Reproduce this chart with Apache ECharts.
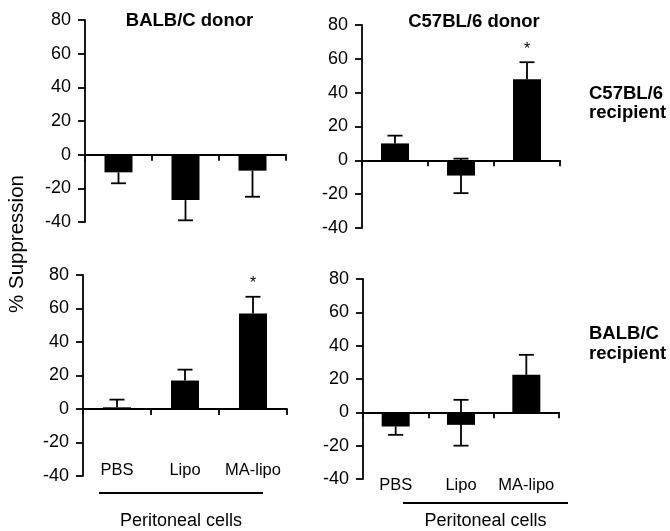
<!DOCTYPE html>
<html><head><meta charset="utf-8">
<script src="https://cdn.jsdelivr.net/npm/echarts@6/dist/echarts.min.js"></script>
<style>html,body{margin:0;padding:0;background:#fff}#c{width:670px;height:531px}</style>
</head><body><div id="c"></div>
<script>
// ---- data ----
const categories = ['PBS', 'Lipo', 'MA-lipo'];
// top-left: BALB/C donor -> C57BL/6 recipient
const tlValues  = [-10.5, -27, -9.5];
const tlErrUp   = [0, 0, 0];
const tlErrDown = [6.5, 12, 15.5];
const tlSig     = [0, 0, 0];
// top-right: C57BL/6 donor -> C57BL/6 recipient
const trValues  = [10, -9, 48];
const trErrUp   = [4.6, 10, 10];
const trErrDown = [0, 10.4, 0];
const trSig     = [0, 0, 1];
// bottom-left: BALB/C donor -> BALB/C recipient
const blValues  = [1, 17, 57];
const blErrUp   = [4.6, 6.5, 10];
const blErrDown = [0, 0, 0];
const blSig     = [0, 0, 1];
// bottom-right: C57BL/6 donor -> BALB/C recipient
const brValues  = [-8.5, -7.5, 22.5];
const brErrUp   = [0, 15, 12];
const brErrDown = [5, 12.5, 0];
const brSig     = [0, 0, 0];

const F = '"Liberation Sans", Arial, Helvetica, sans-serif';
const BLACK = '#000';

const panels = [
  {v: tlValues, up: tlErrUp, dn: tlErrDown, sig: tlSig},
  {v: trValues, up: trErrUp, dn: trErrDown, sig: trSig},
  {v: blValues, up: blErrUp, dn: blErrDown, sig: blSig},
  {v: brValues, up: brErrUp, dn: brErrDown, sig: brSig}
];
const grids = [
  {left: 85, top: 20, width: 201, height: 202},
  {left: 362, top: 25, width: 198, height: 203},
  {left: 83, top: 275, width: 204, height: 201},
  {left: 363, top: 279, width: 196, height: 200}
];
const labelMargins = [null, null, -14, -2];

const xAxis = [], yAxis = [], series = [];
panels.forEach((p, i) => {
  xAxis.push({
    type: 'category', data: categories, gridIndex: i,
    axisLine: {onZero: true, lineStyle: {color: BLACK, width: 1.8}},
    axisTick: {show: true, length: 6, lineStyle: {color: BLACK, width: 1.8}},
    axisLabel: {show: false}, splitLine: {show: false}
  });
  yAxis.push({
    type: 'value', gridIndex: i, min: -40, max: 80, interval: 20,
    axisLine: {show: true, lineStyle: {color: BLACK, width: 1.8}},
    axisTick: {show: true, length: 7, lineStyle: {color: BLACK, width: 1.8}},
    axisLabel: {fontSize: 18, margin: 14, color: BLACK, fontFamily: F},
    splitLine: {show: false}
  });
});
// label axes for bottom panels
[2, 3].forEach(i => {
  xAxis.push({
    type: 'category', data: categories, gridIndex: i, position: 'bottom',
    axisLine: {show: false, onZero: false}, axisTick: {show: false},
    axisLabel: {show: true, interval: 0, margin: labelMargins[i], fontSize: 16.5, color: BLACK, fontFamily: F},
    splitLine: {show: false}
  });
});
panels.forEach((p, i) => {
  series.push({
    type: 'bar', xAxisIndex: i, yAxisIndex: i, data: p.v, barWidth: 28,
    itemStyle: {color: BLACK}, silent: true, animation: false
  });
  series.push({
    type: 'custom', xAxisIndex: i, yAxisIndex: i, animation: false, silent: true,
    encode: {x: 0, y: 1},
    data: p.v.map((val, k) => [k, val, p.up[k], p.dn[k], p.sig[k]]),
    renderItem: (params, api) => {
      const idx = api.value(0), v = api.value(1), up = api.value(2), dn = api.value(3), s = api.value(4);
      const top = api.coord([idx, v + up]);
      const bot = api.coord([idx, v - dn]);
      const cap = 7.5;
      const st = {stroke: BLACK, lineWidth: 1.8};
      const ch = [{type: 'line', shape: {x1: top[0], y1: top[1], x2: bot[0], y2: bot[1]}, style: st}];
      if (up > 0) ch.push({type: 'line', shape: {x1: top[0] - cap, y1: top[1], x2: top[0] + cap, y2: top[1]}, style: st});
      if (dn > 0) ch.push({type: 'line', shape: {x1: bot[0] - cap, y1: bot[1], x2: bot[0] + cap, y2: bot[1]}, style: st});
      if (s) ch.push({type: 'text', style: {text: '*', x: top[0], y: top[1] - 13, textAlign: 'center', textVerticalAlign: 'middle', font: '16px ' + F, fill: BLACK}});
      return {type: 'group', children: ch};
    }
  });
});

const txt = (text, x, y, font, align, rot) => ({
  type: 'text', x: x, y: y, rotation: rot || 0,
  style: {text: text, x: 0, y: 0, textAlign: align || 'center', textVerticalAlign: 'middle', font: font, fill: BLACK}
});
const graphic = [
  txt('BALB/C donor', 189.5, 21, 'bold 18.5px ' + F),
  txt('C57BL/6 donor', 474, 21.5, 'bold 18.5px ' + F),
  txt('C57BL/6', 589, 94, 'bold 18.5px ' + F, 'left'),
  txt('recipient', 589, 113, 'bold 18.5px ' + F, 'left'),
  txt('BALB/C', 589, 334, 'bold 18.5px ' + F, 'left'),
  txt('recipient', 589, 354, 'bold 18.5px ' + F, 'left'),
  txt('% Suppression', 17, 244, '20.5px ' + F, 'center', Math.PI / 2),
  {type: 'line', shape: {x1: 99, y1: 493, x2: 263, y2: 493}, style: {stroke: BLACK, lineWidth: 1.8}},
  {type: 'line', shape: {x1: 403, y1: 503, x2: 568, y2: 503}, style: {stroke: BLACK, lineWidth: 1.8}},
  txt('Peritoneal cells', 181, 521, '18px ' + F),
  txt('Peritoneal cells', 485.5, 521, '18px ' + F)
];

const chart = echarts.init(document.getElementById('c'), null, {renderer: 'canvas'});
chart.setOption({
  animation: false,
  backgroundColor: '#fff',
  grid: grids,
  xAxis: xAxis,
  yAxis: yAxis,
  series: series,
  graphic: graphic
});
</script>
</body></html>
